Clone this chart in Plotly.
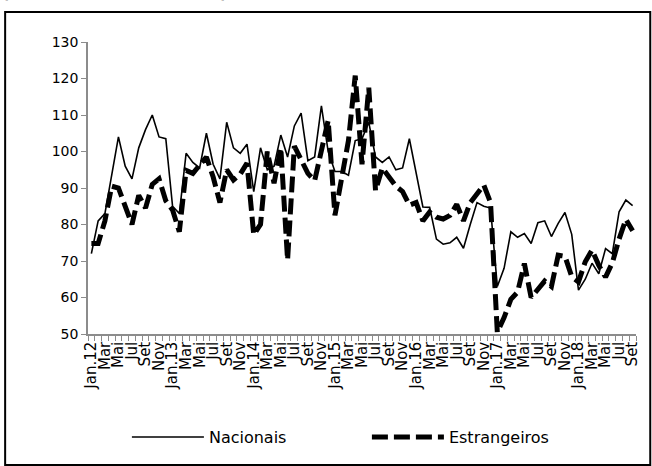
import plotly.graph_objects as go

# Jan.12 ... Set.18, one point per month
meses = ["Jan.12", "Fev", "Mar", "Abr", "Mai", "Jun", "Jul", "Ago", "Set", "Out", "Nov", "Dez",
         "Jan.13", "Fev", "Mar", "Abr", "Mai", "Jun", "Jul", "Ago", "Set", "Out", "Nov", "Dez",
         "Jan.14", "Fev", "Mar", "Abr", "Mai", "Jun", "Jul", "Ago", "Set", "Out", "Nov", "Dez",
         "Jan.15", "Fev", "Mar", "Abr", "Mai", "Jun", "Jul", "Ago", "Set", "Out", "Nov", "Dez",
         "Jan.16", "Fev", "Mar", "Abr", "Mai", "Jun", "Jul", "Ago", "Set", "Out", "Nov", "Dez",
         "Jan.17", "Fev", "Mar", "Abr", "Mai", "Jun", "Jul", "Ago", "Set", "Out", "Nov", "Dez",
         "Jan.18", "Fev", "Mar", "Abr", "Mai", "Jun", "Jul", "Ago", "Set"]

nacionais = [72, 81, 83, 94, 104, 96, 92.5, 101, 106, 110, 104, 103.5,
             85, 83, 99.5, 97, 95.5, 105, 96.5, 92.5, 108, 101, 99.5, 102,
             89, 101, 95, 96, 104.5, 98.5, 107, 110.5, 97.5, 98.5, 112.5, 100,
             94.5, 94.5, 93.5, 103, 103.5, 108, 98.5, 97, 98.5, 95, 95.5, 103.5,
             94, 84.8, 84.7, 76, 74.6, 75, 76.5, 73.5, 80, 86, 85, 84.5,
             63, 68, 78, 76.5, 77.5, 74.8, 80.5, 81, 76.7, 80.3, 83.3, 77.3,
             62, 65, 69.4, 66.5, 73.4, 72, 83.5, 86.7, 85.2]

estrangeiros = [74.8, 74.8, 81, 90.5, 90, 85, 80, 88, 84.5, 91, 92.5, 86.5,
                84, 78, 94.8, 94, 96, 98.5, 93, 86, 95, 92.2, 93.8, 96.8,
                77.2, 80, 100, 91.3, 101, 70.3, 101.5, 97.5, 94, 92, 100, 108.5,
                82.5, 92.5, 103, 120.8, 96.5, 117.5, 89.3, 95.5, 92.8, 90.5, 89, 85.3,
                86, 81, 83.4, 82, 81.5, 82.5, 85.5, 81, 86, 88.4, 90.8, 86,
                50.5, 54.5, 59.5, 61.5, 69.3, 60, 62.3, 64.5, 63, 71.6, 71.3, 65.7,
                64.3, 69.8, 73, 68.8, 65.6, 69.5, 76, 81.4, 78.3]

x = list(range(len(meses)))
tick_pos = x[::2]
tick_txt = meses[::2]

FONT = "DejaVu Sans"
AXIS_GREY = "#8c8c8c"

fig = go.Figure()
fig.add_trace(go.Scatter(x=x, y=nacionais, mode="lines", name="Nacionais",
                         line=dict(color="black", width=1.6)))
fig.add_trace(go.Scatter(x=x, y=estrangeiros, mode="lines", name="Estrangeiros",
                         line=dict(color="black", width=5, dash="16px,6px")))

fig.update_xaxes(
    range=[-0.5, len(meses) - 0.5],
    tickmode="array", tickvals=tick_pos, ticktext=tick_txt,
    tickangle=-90, ticks="", showgrid=False,
    showline=True, linecolor=AXIS_GREY, linewidth=1.5,
    tickfont=dict(family=FONT, size=15, color="black"),
    minor=dict(tick0=-0.5, dtick=1, ticks="outside", ticklen=5,
               tickcolor=AXIS_GREY, tickwidth=1, showgrid=False),
    zeroline=False,
)
fig.update_yaxes(
    range=[50, 130], dtick=10, ticks="outside", ticklen=5,
    tickcolor=AXIS_GREY, showgrid=False, zeroline=False,
    showline=True, linecolor=AXIS_GREY, linewidth=1.5,
    tickfont=dict(family=FONT, size=14, color="black"),
)

# heading sits above the frame and is cut by the page top, as in the source
fig.add_annotation(text="<b>(Índice base 100 = 2012)</b>", xref="paper", yref="paper",
                   x=-0.161, y=1.1027, xanchor="left", yanchor="bottom", yshift=8,
                   showarrow=False, font=dict(family=FONT, size=16, color="black"))

# outer frame
fig.add_shape(type="rect", xref="paper", yref="paper",
              x0=-0.1512, x1=1.026, y0=-0.449, y1=1.1027,
              line=dict(color="black", width=2))

fig.update_layout(
    width=652, height=466,
    margin=dict(l=88, r=16, t=42, b=132),
    paper_bgcolor="white", plot_bgcolor="white",
    showlegend=True,
    legend=dict(orientation="h", x=0.071, y=-0.353, yanchor="middle", xanchor="left",
                itemwidth=72, entrywidth=153, entrywidthmode="pixels",
                font=dict(family=FONT, size=16, color="black")),
)

fig.write_html("out.html", config={"displayModeBar": False},
               post_script="document.body.style.margin='0px';")
